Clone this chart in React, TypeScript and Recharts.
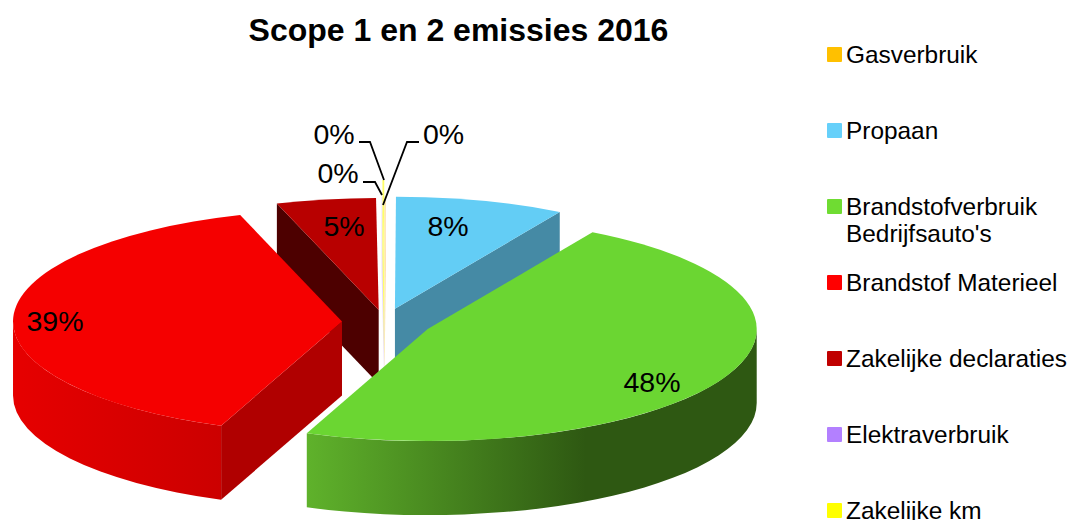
import React from "react";
import { PieChart, Pie, Legend } from "recharts";

const TITLE = "Scope 1 en 2 emissies 2016";
const categories = [
  "Gasverbruik",
  "Propaan",
  "Brandstofverbruik Bedrijfsauto's",
  "Brandstof Materieel",
  "Zakelijke declaraties",
  "Elektraverbruik",
  "Zakelijke km",
];
const values = [0.05, 8.3, 47.64, 39, 4.88, 0.04, 0.09];
const colors = ["#ffc000", "#66d0fa", "#6fdc32", "#ff0000", "#c00000", "#b380ff", "#ffff00"];

const data = categories.map((name, i) => ({ name, value: values[i], fill: colors[i] }));

// layout
const W = 1069;
const H = 520;
const CX = 384.5;
const CY = 322;
const RX = 329;
const SQUASH = 112 / 329;
const DEPTH = 74;
const explode = [40, 40, 48, 42.5, 36, 38, 88];
const topColors = ["#ffd27f", "#63cdf5", "#6bd632", "#f50000", "#b80000", "#e6d8ff", "#ffff66"];
const sideColors = ["#ffd27f", "#458aa5", "#4e9a22", "#b00000", "#4d0000", "#e6d8ff", "#ffff66"];
const rimStops: string[][] = [
  ["#ffd27f", "#ffd27f"],
  ["#458aa5", "#458aa5"],
  ["#5fb22b", "#2e5812", "#2e5812"],
  ["#e60000", "#cc0000"],
  ["#4d0000", "#4d0000"],
  ["#e6d8ff", "#e6d8ff"],
  ["#ffff66", "#ffff66"],
];
const rimOffsets: number[][] = [[0, 1], [0, 1], [0, 0.62, 1], [0, 1], [0, 1], [0, 1], [0, 1]];

const BACK = new Set([1, 4, 6, 5, 0]);
const FRONT = new Set([2, 3]);

const labelLayout: { x: number; y: number; line?: number[][] }[] = [
  { x: 443.5, y: 134, line: [[419, 142], [407, 142], [383, 205]] },
  { x: 448, y: 226 },
  { x: 652, y: 382 },
  { x: 55, y: 321 },
  { x: 344, y: 226 },
  { x: 338, y: 173, line: [[363, 182], [375, 182], [382, 195]] },
  { x: 334, y: 134, line: [[359, 142], [370, 142], [384, 180]] },
];

const FONT = "'Liberation Sans', Arial, sans-serif";
const rad = (d: number) => (d * Math.PI) / 180;

function Slice3D(props: any, layer: Set<number>) {
  const { cx, cy, outerRadius, startAngle, endAngle, index } = props;
  if (!layer.has(index)) return <g />;
  const a = 90 - startAngle;
  const b = 90 - endAngle;
  const mid = (a + b) / 2;
  const rx = outerRadius;
  const ry = outerRadius * SQUASH;
  const e = explode[index];
  const ox = cx + e * Math.sin(rad(mid));
  const oy = cy - e * SQUASH * Math.cos(rad(mid));
  const p = (t: number): [number, number] => [ox + rx * Math.sin(rad(t)), oy - ry * Math.cos(rad(t))];
  const [ax, ay] = p(a);
  const [bx, by] = p(b);
  const large = b - a > 180 ? 1 : 0;
  const top = `M${ox},${oy}L${ax},${ay}A${rx},${ry} 0 ${large} 1 ${bx},${by}Z`;
  const quad = (x: number, y: number) =>
    `M${ox},${oy}L${x},${y}L${x},${y + DEPTH}L${ox},${oy + DEPTH}Z`;

  const t0 = Math.max(a, 90);
  const t1 = Math.min(b, 270);
  let rim: string | null = null;
  if (t1 > t0) {
    const [x0, y0] = p(t0);
    const [x1, y1] = p(t1);
    rim = `M${x0},${y0}A${rx},${ry} 0 0 1 ${x1},${y1}L${x1},${y1 + DEPTH}A${rx},${ry} 0 0 0 ${x0},${y0 + DEPTH}Z`;
  }
  const gid = `rim-${index}`;
  // a wall is only seen when its outward side faces the viewer
  const startVisible = Math.sin(rad(a)) < 0;
  const endVisible = Math.sin(rad(b)) > 0;
  const stops = rimStops[index];
  return (
    <g>
      <defs>
        <linearGradient id={gid} x1="0" y1="0" x2="1" y2="0">
          {stops.map((c, i) => (
            <stop key={i} offset={rimOffsets[index][i]} stopColor={c} />
          ))}
        </linearGradient>
      </defs>
      {startVisible && <path d={quad(ax, ay)} fill={sideColors[index]} />}
      {endVisible && <path d={quad(bx, by)} fill={sideColors[index]} />}
      {rim && <path d={rim} fill={`url(#${gid})`} />}
      <path d={top} fill={topColors[index]} />
    </g>
  );
}

function renderLabel(props: any) {
  const { index, percent } = props;
  const l = labelLayout[index];
  return (
    <g key={index}>
      {l.line && (
        <polyline
          points={l.line.map((q) => q.join(",")).join(" ")}
          fill="none"
          stroke="#000"
          strokeWidth={1.8}
        />
      )}
      <text
        x={l.x}
        y={l.y}
        textAnchor="middle"
        dominantBaseline="central"
        fontFamily={FONT}
        fontSize={28.5}
        fill="#000"
      >
        {`${Math.round(percent * 100)}%`}
      </text>
    </g>
  );
}

function LegendBox(props: any) {
  const seen = new Set<string>();
  const items = (props.payload || [])
    .filter((it: any) => {
      if (seen.has(it.value)) return false;
      seen.add(it.value);
      return true;
    })
    .sort((x: any, y: any) => categories.indexOf(x.value) - categories.indexOf(y.value));
  return (
    <div style={{ position: "relative", width: 241, height: 532, fontFamily: FONT, fontSize: 24.4, color: "#000" }}>
      {items.map((it: any, i: number) => (
        <div
          key={it.value}
          style={{ position: "absolute", left: 0, top: 40.5 + 76 * i, width: 241, lineHeight: "27px" }}
        >
          <span
            style={{
              position: "absolute",
              left: -1,
              top: 6,
              width: 15,
              height: 15,
              borderRadius: 1,
              background: it.color,
            }}
          />
          <span style={{ marginLeft: 18, display: "block", width: 223 }}>
            {it.value === categories[2] ? (
              <>
                Brandstofverbruik
                <br />
                Bedrijfsauto's
              </>
            ) : (
              it.value
            )}
          </span>
        </div>
      ))}
    </div>
  );
}

export default function App() {
  return (
    <div style={{ position: "fixed", left: 0, top: 0, width: W, height: H, overflow: "hidden", background: "#fff" }}>
      <PieChart width={W} height={H} margin={{ top: 0, right: 0, bottom: 0, left: 0 }}>
        <text x={458.5} y={30} textAnchor="middle" dominantBaseline="central" fontFamily={FONT} fontWeight="bold" fontSize={32}>
          {TITLE}
        </text>
        <Pie
          data={data}
          dataKey="value"
          nameKey="name"
          cx={CX}
          cy={CY}
          outerRadius={RX}
          startAngle={90}
          endAngle={-270}
          stroke="none"
          isAnimationActive={false}
          legendType="none"
          label={false}
          labelLine={false}
          shape={(p: any) => Slice3D(p, BACK)}
        />
        <Pie
          data={data}
          dataKey="value"
          nameKey="name"
          cx={CX}
          cy={CY}
          outerRadius={RX}
          startAngle={90}
          endAngle={-270}
          stroke="none"
          isAnimationActive={false}
          label={renderLabel}
          labelLine={false}
          shape={(p: any) => Slice3D(p, FRONT)}
        />
        <Legend
          layout="vertical"
          align="right"
          verticalAlign="top"
          content={LegendBox}
          wrapperStyle={{ position: "absolute", left: 828, top: 0, width: 241, height: 520 }}
        />
      </PieChart>
    </div>
  );
}
